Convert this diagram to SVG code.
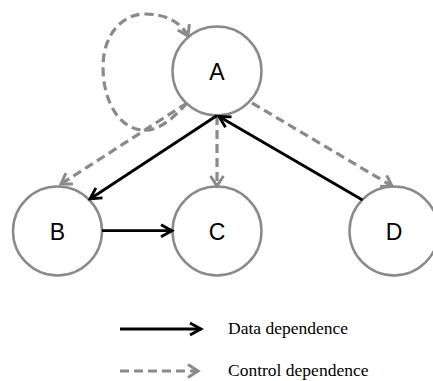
<svg xmlns="http://www.w3.org/2000/svg" width="433" height="381" viewBox="0 0 433 381">
  <style>
    .node circle { fill: #ffffff; stroke: #8a8a8a; stroke-width: 2.5; }
    .node text { font-family: "Liberation Sans", Arial, sans-serif; font-size: 23px; fill: #000000; text-anchor: middle; }
    .data { fill: none; stroke: #000000; stroke-width: 2.8; }
    .ctrl { fill: none; stroke: #8a8a8a; stroke-width: 3.2; stroke-dasharray: 9 5; }
    .legend { font-family: "Liberation Serif", "Times New Roman", serif; font-size: 17.5px; fill: #000000; }
  </style>
  <defs>
    <marker id="arrowData" markerUnits="userSpaceOnUse" markerWidth="20" markerHeight="20" refX="0" refY="0" viewBox="-14 -10 18 20" orient="auto">
      <path d="M-11,-6 L0,0 L-11,6" fill="none" stroke="#000000" stroke-width="2.8"/>
    </marker>
    <marker id="arrowCtrl" markerUnits="userSpaceOnUse" markerWidth="20" markerHeight="20" refX="0" refY="0" viewBox="-14 -10 18 20" orient="auto">
      <path d="M-10,-6.5 L0,0 L-10,6.5" fill="none" stroke="#8a8a8a" stroke-width="3"/>
    </marker>
  </defs>

  <rect width="433" height="381" fill="#ffffff"/>

  <g id="node-A" class="node">
    <circle cx="217" cy="71" r="44.5"/>
    <text x="217" y="79.5">A</text>
  </g>
  <g id="node-B" class="node">
    <circle cx="57.5" cy="231" r="44.5"/>
    <text x="57.5" y="239.5">B</text>
  </g>
  <g id="node-C" class="node">
    <circle cx="217" cy="231" r="44.5"/>
    <text x="217" y="239.5">C</text>
  </g>
  <g id="node-D" class="node">
    <circle cx="394" cy="231" r="44.5"/>
    <text x="394" y="239.5">D</text>
  </g>

  <g id="connectors">
    <!-- control dependences (dashed grey) -->
    <path class="ctrl" d="M187,103 C170,122 156,132 141,130 C118,127 103,100 103,67 C103,35 122,14 145,14 C165,14 181,22 188,36" marker-end="url(#arrowCtrl)"/>
    <path class="ctrl" d="M187,103 L61,184" marker-end="url(#arrowCtrl)"/>
    <path class="ctrl" d="M217,116 L217,186" marker-end="url(#arrowCtrl)"/>
    <path class="ctrl" d="M252,103 L392,186" marker-end="url(#arrowCtrl)"/>
    <!-- data dependences (solid black) -->
    <path class="data" d="M217,115.5 L90,199" marker-end="url(#arrowData)"/>
    <path class="data" d="M362.5,200 L219,116.5" marker-end="url(#arrowData)"/>
    <path class="data" d="M102,230.7 L172,230.7" marker-end="url(#arrowData)"/>
  </g>

  <g id="legend">
    <path class="data" d="M120,329 L201,329" marker-end="url(#arrowData)"/>
    <text class="legend" x="228" y="334">Data dependence</text>
    <path class="ctrl" d="M120,371 L198,371" marker-end="url(#arrowCtrl)"/>
    <text class="legend" x="228" y="376">Control dependence</text>
  </g>
</svg>
